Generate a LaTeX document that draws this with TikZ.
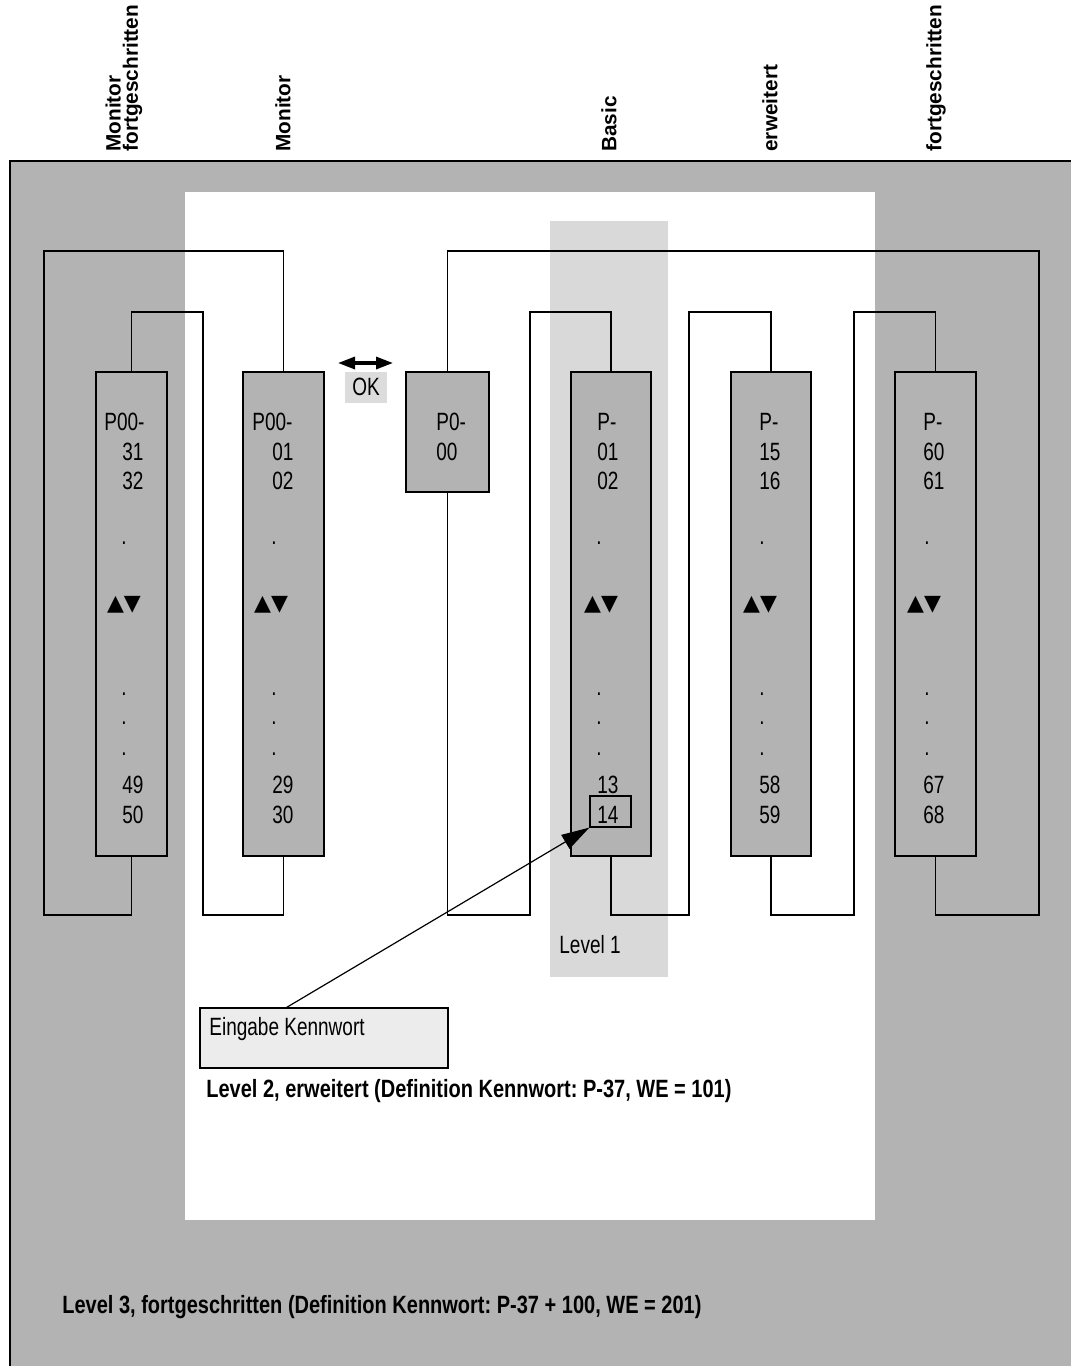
\documentclass[tikz,border=0pt]{standalone}
\usepackage{fontspec}
\setmainfont{Liberation Sans}[FakeStretch=0.76, BoldFeatures={FakeStretch=0.8}]
\newfontfamily\headfont{Liberation Sans}
\newfontfamily\symfont{DejaVu Sans}
\usetikzlibrary{positioning, arrows.meta, calc, fit}
\definecolor{levelgray}{HTML}{B3B3B3}
\definecolor{basicgray}{HTML}{D9D9D9}
\definecolor{okgray}{HTML}{DCDCDC}
\definecolor{inputgray}{HTML}{ECECEC}
\frenchspacing

\begin{document}
\begin{tikzpicture}[
    x=0.5pt, y=-0.5pt,
    every node/.style={inner sep=0pt},
    parbox/.style={rectangle, draw=black, fill=levelgray, line width=0.8pt},
    wire/.style={line width=0.8pt, draw=black},
    entry/.style={anchor=base west, font=\fontsize{12.5}{14}\selectfont},
    dotentry/.style={anchor=base, font=\fontsize{12.5}{14}\selectfont},
    updown/.style={anchor=base, font=\symfont\fontsize{11}{14}\selectfont},
    headlbl/.style={rotate=90, anchor=west, align=left, font=\headfont\bfseries\fontsize{10.4}{8.6}\selectfont},
    caption/.style={anchor=base west, font=\bfseries\fontsize{12.5}{14}\selectfont},
    pointer/.style={-{Triangle[length=14pt, width=8pt]}, line width=0.6pt},
    okarrow/.style={{Triangle[length=8.5pt, width=6pt]}-{Triangle[length=8.5pt, width=6pt]}, line width=1.6pt}
]
    \useasboundingbox (0,0) rectangle (1071,1366);

    % level areas
    \fill[levelgray] (10,161) rectangle (1071,1366);
    \draw[wire] (10,1366) -- (10,161) -- (1071,161);
    \fill[white] (185,192) rectangle (875,1220);
    \fill[basicgray] (550,221) rectangle (668,977);

    % column headers
    \node[headlbl] (hmf) at (124,152) {Monitor\\fortgeschritten};
    \node[headlbl] (hmon) at (283,152) {Monitor};
    \node[headlbl] (hbas) at (609,152) {Basic};
    \node[headlbl] (herw) at (770,152) {erweitert};
    \node[headlbl] (hfort) at (936,152) {fortgeschritten};

    % parameter columns
    \node[parbox, fit={(96,372) (167,856)}] (pA) {};
    \node[parbox, fit={(243,372) (324,856)}] (pB) {};
    \node[parbox, fit={(406,372) (489,492)}] (pC) {};
    \node[parbox, fit={(571,372) (651,856)}] (pD) {};
    \node[parbox, fit={(731,372) (811,856)}] (pE) {};
    \node[parbox, fit={(895,372) (976,856)}] (pF) {};

    % loops
    \draw[wire] (pB.north) |- (44,251) -- (44,915) -| (pA.south);
    \draw[wire] (pA.north) |- (203,312) -- (203,915) -| (pB.south);
    \draw[wire] (pC.north) |- (1039,251) -- (1039,915) -| (pF.south);
    \draw[wire] (pC.south) |- (530,915) -- (530,312) -| (pD.north);
    \draw[wire] (pD.south) |- (689,915) -- (689,312) -| (pE.north);
    \draw[wire] (pE.south) |- (854,915) -- (854,312) -| (pF.north);

    % column entries
    \foreach \id/\xp/\xn/\xd/\xa/\pre/\na/\nb/\nc/\nd in {
        A/104/122/124/124/P00-/31/32/49/50,
        B/252/272/274/271/P00-/01/02/29/30,
        D/597/597/599/601/P-/01/02/13/14,
        E/759/759/762/760/P-/15/16/58/59,
        F/923/923/927/924/P-/60/61/67/68}
    {
        \node[entry] (pre\id) at (\xp,430) {\pre};
        \node[entry] (na\id) at (\xn,460) {\na};
        \node[entry] (nb\id) at (\xn,489) {\nb};
        \node[dotentry] (da\id) at (\xd,544) {.};
        \node[updown] (ud\id) at (\xa,610) {▲▼};
        \node[dotentry] (db\id) at (\xd,695) {.};
        \node[dotentry] (dc\id) at (\xd,724) {.};
        \node[dotentry] (dd\id) at (\xd,755) {.};
        \node[entry] (nc\id) at (\xn,793) {\nc};
        \node[entry] (nd\id) at (\xn,823) {\nd};
    }
    \node[entry] (preC) at (436,430) {P0-};
    \node[entry] (naC) at (436,460) {00};
    \node[draw, line width=0.6pt, fit={(590,796) (631,827)}] (fr14) {};

    % OK key
    \node[fill=okgray, minimum width=21pt, minimum height=15.5pt, font=\fontsize{12.5}{14}\selectfont] (ok) at (366,387) {OK};
    \coordinate (okl) at (338,363);
    \coordinate (okr) at (393,363);
    \draw[okarrow] (okl) -- (okr);

    % password entry
    \node[draw, fill=inputgray, line width=0.6pt, fit={(200,1008) (448,1068)}] (kw) {};
    \node[entry] (kwtext) at (209,1035) {Eingabe Kennwort};
    \draw[pointer] ($(kw.north west)!0.35!(kw.north east)$) -- (fr14.south west);

    % level captions
    \node[entry] (lvl1) at (559,953) {Level 1};
    \node[caption] (lvl2) at (206,1097) {Level 2, erweitert (Definition Kennwort: P-37, WE = 101)};
    \node[caption] (lvl3) at (62,1313) {Level 3, fortgeschritten (Definition Kennwort: P-37 + 100, WE = 201)};
\end{tikzpicture}
\end{document}
